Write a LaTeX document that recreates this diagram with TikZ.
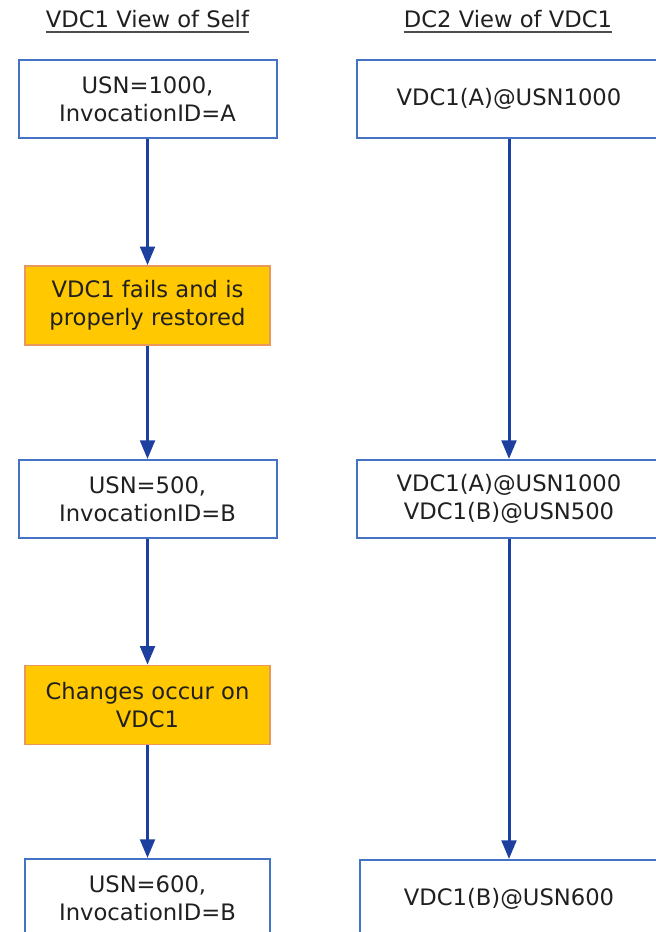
\documentclass[tikz,border=0pt]{standalone}
\usepackage{fontspec}
\setmainfont{DejaVu Sans}
\usetikzlibrary{arrows.meta}
\definecolor{boxblue}{HTML}{4472C4}
\definecolor{arrowblue}{HTML}{1C3FA0}
\definecolor{stepfill}{HTML}{FFC800}
\definecolor{stepline}{HTML}{E8985A}
\definecolor{txt}{HTML}{202020}
\tikzset{
  every node/.style={font=\fontsize{17}{21}\selectfont, text=txt, align=center},
  state/.style={draw=boxblue, line width=1.5pt, fill=white, minimum height=58.5pt, inner sep=0pt},
  event/.style={draw=stepline, line width=1.2pt, fill=stepfill, minimum width=183.75pt, minimum height=59.25pt, inner sep=0pt},
  flow/.style={draw=arrowblue, line width=2.25pt, -{Triangle[length=14pt,width=11pt]}},
  heading/.style={anchor=base, inner sep=0pt},
  rule/.style={draw=txt!80, line width=1.2pt}
}
\begin{document}
\begin{tikzpicture}[x=0.75pt, y=-0.75pt]
  \useasboundingbox (0,0) rectangle (656,932);
  \clip (0,0) rectangle (656,932);
  \fill[white] (0,0) rectangle (656,932);

  % column headings
  \node[heading] (h1) at (147.5,27) {VDC1 View of Self};
  \node[heading] (h2) at (508,27) {DC2 View of VDC1};
  \draw[rule] ([yshift=-3.8pt]h1.base west) -- ([yshift=-3.8pt]h1.base east);
  \draw[rule] ([yshift=-3.8pt]h2.base west) -- ([yshift=-3.8pt]h2.base east);

  % VDC1 view of itself
  \node[state, minimum width=193.5pt] (s1) at (147.5,99) {USN=1000,\\InvocationID=A};
  \node[event] (e1) at (147.5,305.5) {VDC1 fails and is\\properly restored};
  \node[state, minimum width=193.5pt] (s2) at (147.5,499) {USN=500,\\InvocationID=B};
  \node[event] (e2) at (147.5,705) {Changes occur on\\VDC1};
  \node[state, minimum width=183.75pt] (s3) at (147.5,898) {USN=600,\\InvocationID=B};

  % DC2 view of VDC1
  \node[state, minimum width=228pt] (r1) at (509,99) {VDC1(A)@USN1000};
  \node[state, minimum width=228pt] (r2) at (509,499) {VDC1(A)@USN1000\\VDC1(B)@USN500};
  \node[state, minimum width=223.5pt] (r3) at (509,899) {VDC1(B)@USN600};

  % connectors
  \draw[flow] (s1) -- (e1);
  \draw[flow] (e1) -- (s2);
  \draw[flow] (s2) -- (e2);
  \draw[flow] (e2) -- (s3);
  \draw[flow] (r1) -- (r2);
  \draw[flow] (r2) -- (r3);
\end{tikzpicture}
\end{document}
